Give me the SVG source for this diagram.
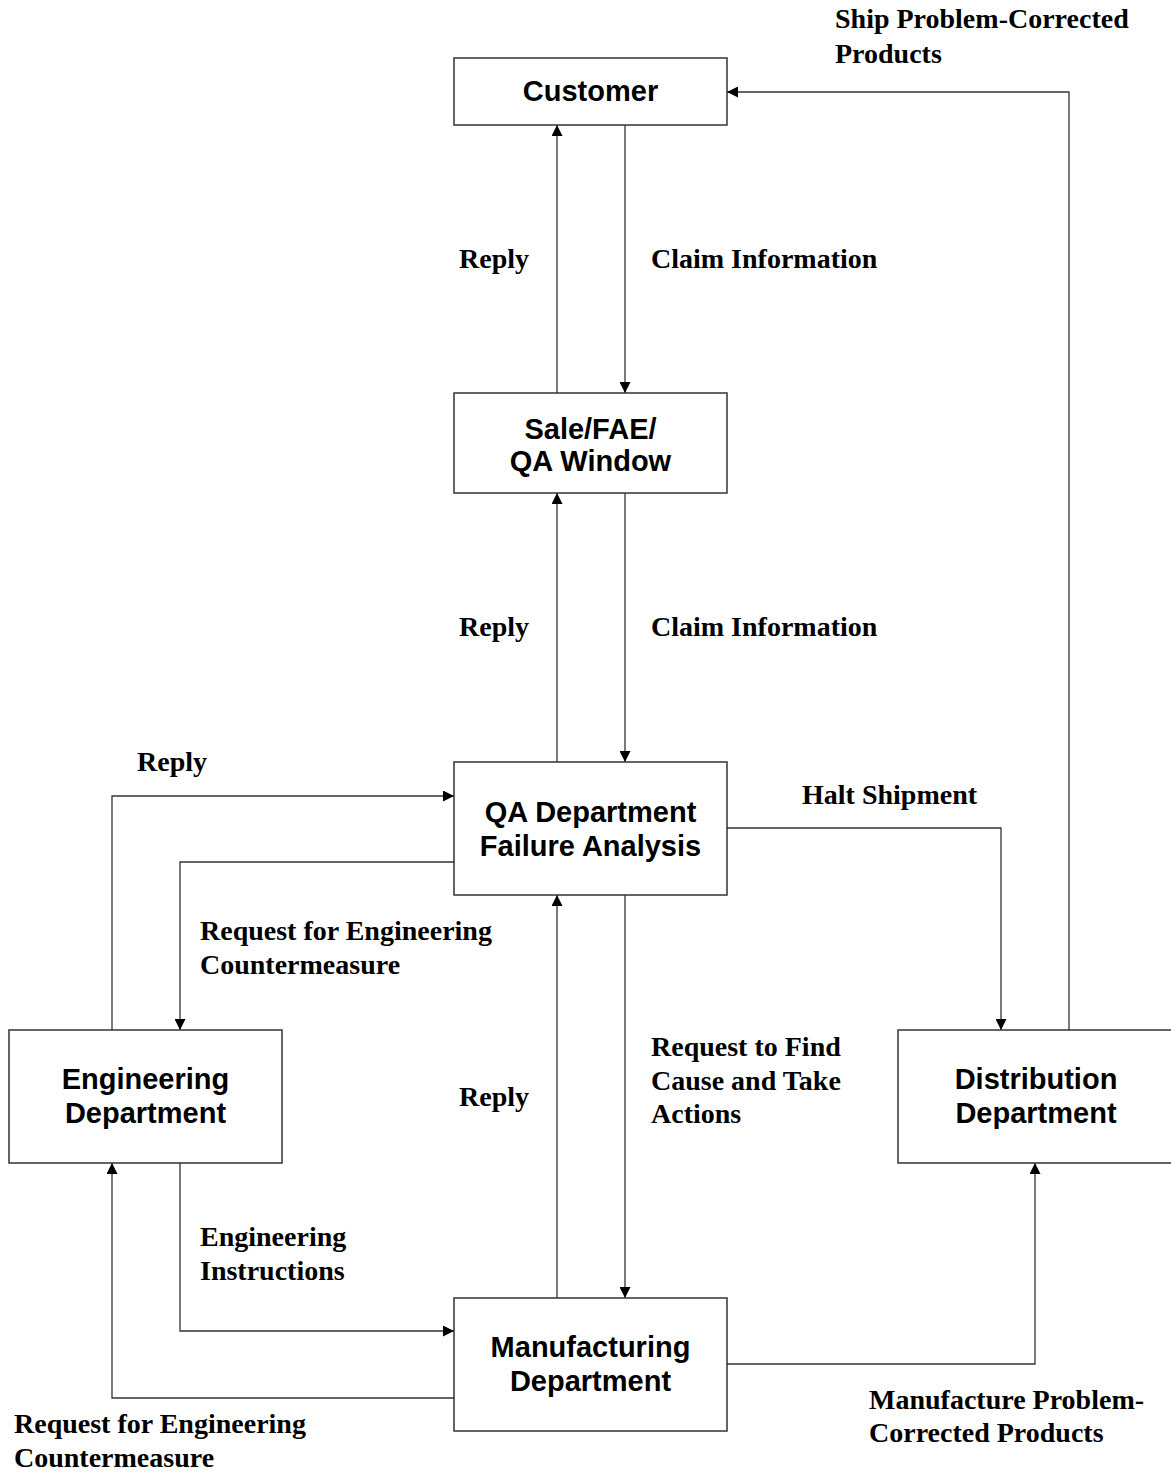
<svg xmlns="http://www.w3.org/2000/svg" width="1171" height="1483" viewBox="0 0 1171 1483">
<style>
.box{fill:#fff;stroke:#333;stroke-width:1.5}
.bt{font-family:"Liberation Sans",Arial,sans-serif;font-weight:bold;font-size:29px;fill:#000;text-anchor:middle}
.lb{font-family:"Liberation Serif","Times New Roman",serif;font-weight:bold;font-size:28px;fill:#000}
.ln{fill:none;stroke:#333;stroke-width:1.3}
</style>
<defs>
<marker id="ar" viewBox="0 0 10 10" refX="10" refY="5" markerWidth="11" markerHeight="11" markerUnits="userSpaceOnUse" orient="auto">
<path d="M0,0 L10,5 L0,10 z" fill="#000"/>
</marker>
</defs>
<rect width="1171" height="1483" fill="#fff"/>
<g id="connectors">
<path class="ln" d="M625,125 V393" marker-end="url(#ar)"/>
<path class="ln" d="M557,393 V125" marker-end="url(#ar)"/>
<path class="ln" d="M625,493 V762" marker-end="url(#ar)"/>
<path class="ln" d="M557,762 V493" marker-end="url(#ar)"/>
<path class="ln" d="M625,895 V1298" marker-end="url(#ar)"/>
<path class="ln" d="M557,1298 V895" marker-end="url(#ar)"/>
<path class="ln" d="M112,1030 V796 H454" marker-end="url(#ar)"/>
<path class="ln" d="M454,862 H180 V1030" marker-end="url(#ar)"/>
<path class="ln" d="M180,1163 V1331 H454" marker-end="url(#ar)"/>
<path class="ln" d="M454,1398 H112 V1163" marker-end="url(#ar)"/>
<path class="ln" d="M727,828 H1001 V1030" marker-end="url(#ar)"/>
<path class="ln" d="M1069,1030 V92 H727" marker-end="url(#ar)"/>
<path class="ln" d="M727,1364 H1035 V1163" marker-end="url(#ar)"/>
</g>
<g id="labels">
<text class="lb" x="835" y="28">Ship Problem-Corrected</text>
<text class="lb" x="835" y="63">Products</text>
<text class="lb" x="459" y="268">Reply</text>
<text class="lb" x="651" y="268">Claim Information</text>
<text class="lb" x="459" y="636">Reply</text>
<text class="lb" x="651" y="636">Claim Information</text>
<text class="lb" x="137" y="771">Reply</text>
<text class="lb" x="802" y="804">Halt Shipment</text>
<text class="lb" x="200" y="940">Request for Engineering</text>
<text class="lb" x="200" y="974">Countermeasure</text>
<text class="lb" x="651" y="1056">Request to Find</text>
<text class="lb" x="651" y="1090">Cause and Take</text>
<text class="lb" x="651" y="1123">Actions</text>
<text class="lb" x="459" y="1106">Reply</text>
<text class="lb" x="200" y="1246">Engineering</text>
<text class="lb" x="200" y="1280">Instructions</text>
<text class="lb" x="869" y="1409">Manufacture Problem-</text>
<text class="lb" x="869" y="1442">Corrected Products</text>
<text class="lb" x="14" y="1433">Request for Engineering</text>
<text class="lb" x="14" y="1467">Countermeasure</text>
</g>
<g id="customer">
<rect class="box" x="454" y="58" width="273" height="67"/>
<text class="bt" x="590.5" y="101">Customer</text>
</g>
<g id="sale">
<rect class="box" x="454" y="393" width="273" height="100"/>
<text class="bt" x="590.5" y="439">Sale/FAE/</text>
<text class="bt" x="590.5" y="471">QA Window</text>
</g>
<g id="qa">
<rect class="box" x="454" y="762" width="273" height="133"/>
<text class="bt" x="590.5" y="822">QA Department</text>
<text class="bt" x="590.5" y="856">Failure Analysis</text>
</g>
<g id="engineering">
<rect class="box" x="9" y="1030" width="273" height="133"/>
<text class="bt" x="145.5" y="1089">Engineering</text>
<text class="bt" x="145.5" y="1123">Department</text>
</g>
<g id="distribution">
<rect class="box" x="898" y="1030" width="280" height="133"/>
<text class="bt" x="1036" y="1089">Distribution</text>
<text class="bt" x="1036" y="1123">Department</text>
</g>
<g id="manufacturing">
<rect class="box" x="454" y="1298" width="273" height="133"/>
<text class="bt" x="590.5" y="1357">Manufacturing</text>
<text class="bt" x="590.5" y="1391">Department</text>
</g>
</svg>
